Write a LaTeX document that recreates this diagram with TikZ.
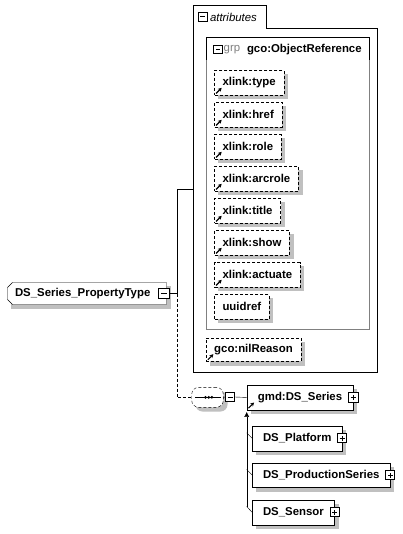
\documentclass[tikz,border=0pt]{standalone}
\usepackage{fontspec}
\setmainfont{Liberation Sans}
\usetikzlibrary{shapes.misc,arrows.meta,calc}
\definecolor{shadowc}{RGB}{192,192,192}
\definecolor{grpgray}{RGB}{128,128,128}
\newcommand{\boxfont}{\fontsize{11.4}{13.5}\selectfont}
\pgfdeclarelayer{bg}
\pgfdeclarelayer{shd}
\pgfsetlayers{bg,shd,main}
\begin{document}
\begin{tikzpicture}[x=1pt,y=-1pt,line width=1pt,font=\boxfont,
  dsh/.style={dash pattern=on 3pt off 2pt},
  attrbox/.style={draw,dsh,fill=white,font=\boxfont\bfseries,minimum height=24.5pt,inner xsep=8pt,inner ysep=0pt,anchor=north west},
  elbox/.style={draw,fill=white,font=\boxfont\bfseries,minimum height=24.5pt,inner xsep=10.5pt,inner ysep=0pt,anchor=north west},
  pmbox/.style={draw,fill=white,line width=1pt,minimum size=#1,inner sep=0pt,outer sep=0pt},
  pmbox/.default=9pt,
  minusbox/.style={pmbox=#1,path picture={\draw[line width=1pt] ([xshift=2pt]path picture bounding box.west) -- ([xshift=-2pt]path picture bounding box.east);}},
  minusbox/.default=9pt,
  plusbox/.style={pmbox=#1,path picture={\draw[line width=1pt] ([xshift=2pt]path picture bounding box.west) -- ([xshift=-2pt]path picture bounding box.east);
     \draw[line width=1pt] ([yshift=2pt]path picture bounding box.south) -- ([yshift=-2pt]path picture bounding box.north);}},
  plusbox/.default=9pt,
  refic/.style={line width=1.2pt,-{Stealth[length=3.8pt,width=4pt]}},
  shadowfill/.style={fill=shadowc,draw=none}
]
\begin{pgfonlayer}{bg}
\fill[white] (0,0) rectangle (403,534);
\end{pgfonlayer}
\useasboundingbox (0,0) rectangle (403,534);

% attributes container
\draw (192.7,372) -- (192.7,5) -- (266,5) -- (266,28.3) -- (376.7,28.3) -- (376.7,372) -- cycle;
\node[minusbox] (attrminus) at (202.5,17) {};
\node[anchor=west,font=\boxfont\itshape,inner sep=0pt] (attrlabel) at (209.8,17) {attributes};
\coordinate (attrL) at (192.7,189);

% group box
\draw[grpgray] (206,60) -- (206,329) -- (369,329) -- (369,60);
\draw (206,60) -- (206,37) -- (369,37) -- (369,60);
\node[minusbox=8.5pt] (grpminus) at (218,49.5) {};
\node[anchor=west,text=grpgray,inner sep=0pt] (grplabel) at (223.5,49.5) {grp};
\node[anchor=west,font=\boxfont\bfseries,inner sep=0pt] (grpname) at (246.8,49.5) {gco:ObjectReference};

% attributes
\node[attrbox] (type) at (214.3,70.3) {xlink:type};
\node[attrbox] (href) at (214.3,102.3) {xlink:href};
\node[attrbox] (role) at (214.3,134.3) {xlink:role};
\node[attrbox] (arcrole) at (214.3,166.3) {xlink:arcrole};
\node[attrbox] (title) at (214.3,198.3) {xlink:title};
\node[attrbox] (show) at (214.3,230.3) {xlink:show};
\node[attrbox] (actuate) at (214.3,262.3) {xlink:actuate};
\node[attrbox] (uuidref) at (214.3,294.3) {uuidref};
\node[attrbox,minimum height=23.5pt] (nil) at (206,337.7) {gco:nilReason};
\foreach \n in {type,href,role,arcrole,title,show,actuate,nil}
  \draw[refic] ([shift={(1.8pt,1.8pt)}]\n.south west) -- ++(5.6pt,5.6pt);

% main element
\node[draw,fill=white,chamfered rectangle,chamfered rectangle corners={north west,south west},
  chamfered rectangle xsep=2.5pt,chamfered rectangle ysep=2.5pt,
  minimum width=154pt,minimum height=22pt,text width=144pt,align=left,inner xsep=5pt,inner ysep=0pt,
  font=\boxfont\bfseries] (main) at (87,293.5) {DS\_Series\_PropertyType};
\node[minusbox=10.5pt,line width=1.3pt] (mainminus) at (164,293.5) {};
\coordinate (j1) at (177,293.5);
\draw (mainminus.east) -- (j1) |- (attrL);

% sequence compositor
\node[draw,dsh,fill=white,rounded corners=7pt,minimum width=31.6pt,minimum height=20pt,inner sep=0pt] (seq) at (207.5,397.3) {};
\draw ([xshift=3.5pt]seq.west) -- ([xshift=-3pt]seq.east);
\foreach \dx in {-2,1.2,4.4} \fill ([xshift=\dx pt]seq.center) circle (1.5pt);
\draw[dsh] (j1) |- (seq.west);
\node[minusbox=9.3pt] (seqminus) at (230.3,397) {};
\draw (seq.east) -- (seqminus.west);

% gmd:DS_Series
\node[elbox,inner xsep=11pt] (gmd) at (246.7,385) {gmd:DS\_Series};
\node[plusbox=9.5pt] (gmdplus) at (gmd.east) {};
\draw[refic] ([shift={(1.8pt,1.8pt)}]gmd.south west) -- ++(5.6pt,5.6pt);
\draw (seqminus.east) -- (gmd.west);

% substitution group members
\node[elbox] (plat) at (252.3,426) {DS\_Platform};
\node[plusbox] (platplus) at (plat.east) {};
\node[elbox] (prod) at (252.3,462.7) {DS\_ProductionSeries};
\node[plusbox] (prodplus) at (prod.east) {};
\node[elbox] (sens) at (252.3,500) {DS\_Sensor};
\node[plusbox] (sensplus) at (sens.east) {};

\coordinate (bp) at (246.7,432.8);
\coordinate (bq) at (246.7,469.5);
\coordinate (sb) at (246.7,506.5);
\draw[-{Latex[length=5pt,width=5pt]}] (sb) -- ([yshift=-2pt]gmd.south west);
\draw (bp) -- (plat.west);
\draw (bq) -- (prod.west);
\draw (sb) -- (sens.west);

% shadows
\begin{pgfonlayer}{shd}
\foreach \n in {type,href,role,arcrole,title,show,actuate,uuidref,nil,gmd,plat,prod,sens,main}
  \fill[shadowfill] ($(\n.west |- \n.south)+(4pt,-4pt)$) rectangle ($(\n.east |- \n.north)+(4pt,-4pt)$);
\fill[shadowfill,rounded corners=7pt] ($(seq.west |- seq.south)+(4pt,-4pt)$) rectangle ($(seq.east |- seq.north)+(4pt,-4pt)$);
\end{pgfonlayer}
\end{tikzpicture}
\end{document}
